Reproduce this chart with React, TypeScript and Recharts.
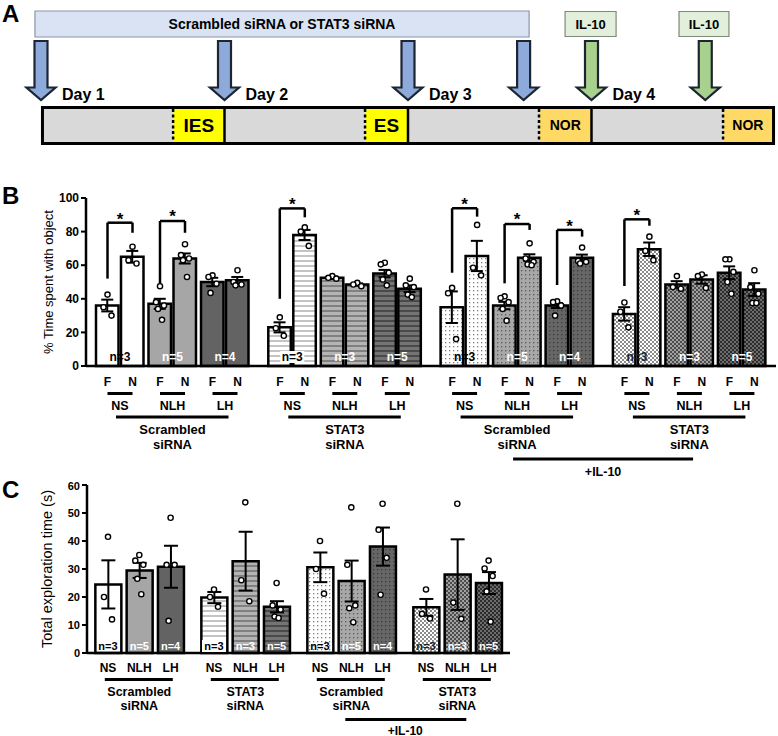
import React from 'react';
import {
  ComposedChart, Bar, Cell, ErrorBar, Scatter, XAxis, YAxis,
  ReferenceLine, ReferenceDot, ReferenceArea,
} from 'recharts';

const FONT = "'Liberation Sans', Arial, Helvetica, sans-serif";

// ---------------- Panel A (timeline) ----------------
const dayLabels = ['Day 1', 'Day 2', 'Day 3', 'Day 4'];
const sirnaInjectionDays = [0, 1, 2, 2.63];
const il10InjectionDays = [3, 3.62];
const treatmentText = 'Scrambled siRNA or STAT3 siRNA';
const treatmentSpanDays = [-0.033, 2.66];
const il10Text = 'IL-10';
const il10BoxDays = [[2.856, 3.134], [3.477, 3.749]];
const sessionLabels = ['IES', 'ES', 'NOR', 'NOR'];
const sessionStartDays = [0.72, 1.766, 2.714, 3.717];
const sessionEndDays = [1, 2, 3, 4];
const dayBoundaries = [1, 2, 3];

// ---------------- Panel B ----------------
const groupLabels = [['Scrambled', 'siRNA'], ['STAT3', 'siRNA'], ['Scrambled', 'siRNA'], ['STAT3', 'siRNA']];
const conditions = ['NS', 'NLH', 'LH'];
const objects = ['F', 'N'];
const il10Label = '+IL-10';
const bTicks = [0, 20, 40, 60, 80, 100];
const bTitle = '% Time spent with object';
// order: group -> condition -> object (F, N)
const bMean = [
  36, 65, 37, 64, 50, 51,
  23, 78, 52.5, 48.5, 55, 46,
  35, 65.5, 36, 64.5, 36, 64.5,
  31, 69.5, 48.5, 51.5, 55.5, 45.5,
];
const bSem = [
  3.5, 3.5, 3, 3, 2.5, 2,
  3, 3, 0.7, 0.7, 2.2, 2,
  9.4, 9, 2.2, 2, 1.5, 1.8,
  4, 4, 2, 2.5, 3.8, 3.8,
];
const bPoints = [
  [42.5, 35, 30], [71, 63, 61], [47.5, 38, 36, 34, 27.5], [72.5, 66, 64, 63, 53], [54, 53, 49, 43.5], [57, 50, 48.5, 48],
  [29, 22.5, 18], [82.5, 80, 71.5], [53.5, 52.5, 52], [49.5, 48.5, 47.5], [61.5, 60.5, 55.5, 51.5, 48], [52, 48, 47, 42.5, 41],
  [46.5, 43.3, 16], [84, 58.5, 54], [41.5, 40.5, 38, 34, 27], [73, 64, 62, 60.5, 60], [38.5, 38, 36, 30], [70.5, 62.5, 62, 61],
  [37.8, 32.3, 23], [77, 68.5, 63], [53.5, 47, 46], [54.5, 53.5, 46.5], [63.5, 63.5, 56, 50, 43], [57, 47, 43, 37.5, 37.5],
];
const nPerCondition = [3, 5, 4, 3, 3, 5, 3, 5, 4, 3, 3, 5];
// significance brackets: F bar index, leg/top heights (in % units)
const bSignificance = [
  { bar: 0, fLeg: 52, top: 85.3, nLeg: 79.3, star: 89.5 },
  { bar: 2, fLeg: 47.4, top: 86.3, nLeg: 79.3, star: 90.8 },
  { bar: 6, fLeg: 40, top: 93.8, nLeg: 88.5, star: 98 },
  { bar: 12, fLeg: 55.5, top: 93.9, nLeg: 88.9, star: 98.5 },
  { bar: 14, fLeg: 49.2, top: 84.5, nLeg: 81, star: 89 },
  { bar: 16, fLeg: 48.2, top: 81, nLeg: 77, star: 85 },
  { bar: 18, fLeg: 47.6, top: 87.3, nLeg: 83.5, star: 91.5 },
];

// ---------------- Panel C ----------------
const cTicks = [0, 10, 20, 30, 40, 50, 60];
const cTitle = 'Total exploration time (s)';
const cMean = [24.5, 29.5, 30.8, 19.8, 32.8, 16.5, 30.6, 25.7, 38, 16.3, 28, 25];
const cSem = [8.6, 2.7, 7.5, 2, 10.5, 2, 5.3, 7.3, 6.8, 3, 12.6, 3.9];
const cPoints = [
  [41.5, 20, 12], [35, 33, 31.5, 26.5, 21], [48.3, 31.5, 31.5, 11.5],
  [22.7, 20, 16.5], [53.8, 26, 18.5], [25, 17, 15.5, 13, 12.5],
  [40, 30, 21.2], [52, 31.5, 17, 16, 11], [53.3, 44, 34, 20.8],
  [22.7, 14, 12.3], [53.3, 18, 12.2], [33, 30.2, 27.5, 22, 11.2],
];

// ---------------- layout helpers ----------------
const JIT = [0, -4, 4, -2, 2];
const B_BAR = 25;
const C_BAR = 26;
const bX = (i: number) => {
  const g = Math.floor(i / 6), p = Math.floor((i % 6) / 2), s = i % 2;
  return 21.5 + g * 172.3 + p * 52.5 + s * B_BAR;
};
const cX = (i: number) => {
  const g = Math.floor(i / 3), b = i % 3;
  return 21 + g * 106 + b * 31.3;
};

const tones = [
  { solid: '#ffffff', sBg: '#ffffff', sLn: '#c4c4c4', dBg: '#ffffff', dDot: '#7c7c7c', cA: '#ffffff', cB: '#8c8c8c' },
  { solid: '#a6a6a6', sBg: '#b4b4b4', sLn: '#808080', dBg: '#a8a8a8', dDot: '#5a5a5a', cA: '#a0a0a0', cB: '#4c4c4c' },
  { solid: '#636363', sBg: '#747474', sLn: '#4a4a4a', dBg: '#666666', dDot: '#3a3a3a', cA: '#6c6c6c', cB: '#2c2c2c' },
];
const fillFor = (g: number, p: number) => {
  if (g === 0) return tones[p].solid;
  if (g === 1) return `url(#stripe${p})`;
  if (g === 2) return `url(#dots${p})`;
  return `url(#check${p})`;
};

const Patterns = () => (
  <svg width={0} height={0} style={{ position: 'absolute' }}>
    <defs>
      {tones.map((t, p) => (
        <React.Fragment key={p}>
          <pattern id={`stripe${p}`} patternUnits="userSpaceOnUse" width={8} height={5}>
            <rect width={8} height={5} fill={t.sBg} />
            <rect width={8} height={2} fill={t.sLn} />
          </pattern>
          <pattern id={`dots${p}`} patternUnits="userSpaceOnUse" width={4} height={4}>
            <rect width={4} height={4} fill={t.dBg} />
            <rect x={1} y={1} width={1.3} height={1.3} fill={t.dDot} />
          </pattern>
          <pattern id={`check${p}`} patternUnits="userSpaceOnUse" width={4} height={4}>
            <rect width={4} height={4} fill={t.cA} />
            <rect x={0} y={0} width={2} height={2} fill={t.cB} />
            <rect x={2} y={2} width={2} height={2} fill={t.cB} />
          </pattern>
        </React.Fragment>
      ))}
    </defs>
  </svg>
);

const txt = (size: number, weight: string = 'bold') => ({ fontSize: size, fontWeight: weight as any, fontFamily: FONT, fill: '#000' });

const AxisTitle = ({ viewBox, text, dx, size }: any) => {
  const vb = viewBox || { x: 0, y: 0, width: 60, height: 168 };
  const cx = vb.x + dx;
  const cy = vb.y + vb.height / 2;
  return (
    <text x={cx} y={cy} transform={`rotate(-90 ${cx} ${cy})`} textAnchor="middle" dominantBaseline="central" {...txt(size, 'normal')}>
      {text}
    </text>
  );
};

const Dot = (p: any) => (
  <circle cx={p.cx} cy={p.cy} r={2.6} fill="#fff" stroke="#000" strokeWidth={1.4} />
);

const NLabel = (size: number, lift: number) => (p: any) => {
  const k = p.payload.k as number;
  const g = Math.floor(k / 3), c = k % 3;
  const color = c === 0 ? (g === 3 ? '#222' : '#000') : '#fff';
  const y = p.cy - lift;
  return (
    <g>
      {g === 1 && c === 0 ? <rect x={p.cx - 12} y={y - 10} width={24} height={12} fill="#fff" /> : null}
      <text x={p.cx} y={y} textAnchor="middle" {...txt(size)} fill={color}>{`n=${nPerCondition[k]}`}</text>
    </g>
  );
};

// ---------------- Panel A ----------------
const A_PX_PER_DAY = 183.5;
const A_DOMAIN: [number, number] = [-41 / A_PX_PER_DAY, 737 / A_PX_PER_DAY];
const arrowShape = (fill: string) => (p: any) => {
  const { cx, cy } = p;
  const sh = 6.5, hh = 14.5, se = cy + 46.5, tip = cy + 59;
  const pts = `${cx - sh},${cy} ${cx + sh},${cy} ${cx + sh},${se} ${cx + hh},${se} ${cx},${tip} ${cx - hh},${se} ${cx - sh},${se}`;
  return <polygon points={pts} fill={fill} stroke="#1d2533" strokeWidth={2.2} />;
};

const PanelA = () => {
  const sirna = sirnaInjectionDays.map((d) => ({ day: d, y: 41 }));
  const il10 = il10InjectionDays.map((d) => ({ day: d, y: 41 }));
  return (
    <ComposedChart width={778} height={150} margin={{ top: 0, right: 0, bottom: 0, left: 0 }}>
      <XAxis type="number" dataKey="day" domain={A_DOMAIN} hide />
      <YAxis type="number" domain={[0, 150]} reversed hide />
      <ReferenceArea x1={treatmentSpanDays[0]} x2={treatmentSpanDays[1]} y1={11} y2={37} fill="#dae3f3" fillOpacity={1} stroke="#8a96a8" strokeWidth={1.2}
        label={{ value: treatmentText, position: 'center', ...txt(14) }} />
      {il10BoxDays.map((b, i) => (
        <ReferenceArea key={`il${i}`} x1={b[0]} x2={b[1]} y1={11.5} y2={36.5} fill="#e2efda" fillOpacity={1} stroke="#7f8a78" strokeWidth={1.2}
          label={{ value: il10Text, position: 'center', ...txt(13) }} />
      ))}
      <ReferenceArea x1={0.008} x2={3.992} y1={107.5} y2={143.5} fill="#d9d9d9" fillOpacity={1} stroke="none" />
      {sessionLabels.map((s, i) => (
        <ReferenceArea key={`s${i}`} x1={sessionStartDays[i]} x2={sessionEndDays[i] - (i === 3 ? 0.012 : 0)} y1={109} y2={142}
          fill={s === 'NOR' ? '#ffd966' : '#ffff00'} fillOpacity={1} stroke="none"
          label={{ value: s, position: 'center', ...txt(s === 'NOR' ? 14 : 19) }} />
      ))}
      <ReferenceArea x1={0.008} x2={3.992} y1={107.5} y2={143.5} fill="none" fillOpacity={0} stroke="#000" strokeWidth={3} />
      {dayBoundaries.map((d) => (
        <ReferenceLine key={`b${d}`} segment={[{ x: d, y: 107.5 }, { x: d, y: 143.5 }]} stroke="#000" strokeWidth={2.5} />
      ))}
      {sessionStartDays.map((d, i) => (
        <ReferenceLine key={`d${i}`} segment={[{ x: d, y: 109 }, { x: d, y: 142 }]} stroke="#000" strokeWidth={2.5} strokeDasharray="3 2.5" />
      ))}
      {dayLabels.map((l, i) => (
        <ReferenceDot key={l} x={i} y={100} r={0}
          shape={(p: any) => <text x={p.cx + 21} y={p.cy} {...txt(16)}>{l}</text>} />
      ))}
      <Scatter data={sirna} dataKey="y" isAnimationActive={false} shape={arrowShape('#8eaadb')} />
      <Scatter data={il10} dataKey="y" isAnimationActive={false} shape={arrowShape('#a9d18e')} />
    </ComposedChart>
  );
};

// ---------------- Panel B ----------------
const bBarX = bMean.map((_, i) => bX(i));
const BTick = (props: any) => {
  const { x, y, payload } = props;
  const i = bBarX.findIndex((v) => Math.abs(v - payload.value) < 1e-6);
  if (i < 0) return null;
  const g = Math.floor(i / 6), p = Math.floor((i % 6) / 2), s = i % 2;
  const pc = x + B_BAR / 2;
  return (
    <g>
      <text x={x} y={y + 20} textAnchor="middle" {...txt(12)}>{objects[s]}</text>
      {s === 0 ? (
        <>
          <line x1={x} x2={x + B_BAR} y1={y + 27.5} y2={y + 27.5} stroke="#000" strokeWidth={3} />
          <text x={pc} y={y + 44} textAnchor="middle" {...txt(12.5)}>{conditions[p]}</text>
          {p === 1 ? (
            <>
              <line x1={pc - 56.5} x2={pc + 56} y1={y + 51} y2={y + 51} stroke="#000" strokeWidth={3} />
              <text x={pc} y={y + 68} textAnchor="middle" {...txt(13)}>{groupLabels[g][0]}</text>
              <text x={pc} y={y + 83} textAnchor="middle" {...txt(13)}>{groupLabels[g][1]}</text>
            </>
          ) : null}
          {p === 1 && g === 2 ? (
            <>
              <line x1={pc - 4} x2={pc + 176} y1={y + 93} y2={y + 93} stroke="#000" strokeWidth={3} />
              <text x={pc + 86} y={y + 110} textAnchor="middle" {...txt(12.5)}>{il10Label}</text>
            </>
          ) : null}
        </>
      ) : null}
    </g>
  );
};

const PanelB = () => {
  const data = bMean.map((m, i) => ({ x: bX(i), mean: m, sem: bSem[i] }));
  const dots = bPoints.flatMap((vals, i) => vals.map((v, k) => ({ x: bX(i) + JIT[k], v })));
  const nl = nPerCondition.map((_, k) => ({ x: bX(2 * k) + B_BAR / 2, v: 0, k }));
  return (
    <ComposedChart width={778} height={300} data={data} margin={{ top: 13, right: 2, bottom: 4, left: 26 }}>
      <XAxis type="number" dataKey="x" domain={[0, 690]} ticks={bBarX} interval={0} tickSize={0} tickMargin={0}
        tickLine={false} axisLine={{ stroke: '#000', strokeWidth: 2.5 }} height={115} tick={(p: any) => <BTick {...p} />} />
      <XAxis xAxisId="pts" type="number" dataKey="x" domain={[0, 690]} hide />
      <YAxis type="number" domain={[0, 100]} ticks={bTicks} width={60} tickSize={5} tickMargin={2}
        axisLine={{ stroke: '#000', strokeWidth: 2.5 }} tickLine={{ stroke: '#000', strokeWidth: 2 }}
        tick={txt(12)} label={(lp: any) => <AxisTitle viewBox={lp.viewBox} text={bTitle} dx={22} size={13} />} />
      <Bar dataKey="mean" barSize={B_BAR} stroke="#000" strokeWidth={2.5} isAnimationActive={false}>
        {data.map((_, i) => (
          <Cell key={i} fill={fillFor(Math.floor(i / 6), Math.floor((i % 6) / 2))} />
        ))}
        <ErrorBar dataKey="sem" width={6} stroke="#000" strokeWidth={2} />
      </Bar>
      <Scatter xAxisId="pts" data={dots} dataKey="v" isAnimationActive={false} shape={Dot} />
      <Scatter xAxisId="pts" data={nl} dataKey="v" isAnimationActive={false} shape={NLabel(12, 5)} />
      {bSignificance.map((s, j) => {
        const xf = bX(s.bar), xn = bX(s.bar + 1);
        return (
          <React.Fragment key={`sig${j}`}>
            <ReferenceLine segment={[{ x: xf, y: s.fLeg }, { x: xf, y: s.top }]} stroke="#000" strokeWidth={2.5} />
            <ReferenceLine segment={[{ x: xf, y: s.top }, { x: xn, y: s.top }]} stroke="#000" strokeWidth={2.5} />
            <ReferenceLine segment={[{ x: xn, y: s.top }, { x: xn, y: s.nLeg }]} stroke="#000" strokeWidth={2.5} />
            <ReferenceDot x={(xf + xn) / 2} y={s.star} r={0}
              shape={(p: any) => <text x={p.cx} y={p.cy + 9} textAnchor="middle" {...txt(17)}>*</text>} />
          </React.Fragment>
        );
      })}
    </ComposedChart>
  );
};

// ---------------- Panel C ----------------
const cBarX = cMean.map((_, i) => cX(i));
const CTick = (props: any) => {
  const { x, y, payload } = props;
  const i = cBarX.findIndex((v) => Math.abs(v - payload.value) < 1e-6);
  if (i < 0) return null;
  const g = Math.floor(i / 3), b = i % 3;
  return (
    <g>
      <text x={x} y={y + 18.5} textAnchor="middle" {...txt(12)}>{conditions[b]}</text>
      {b === 1 ? (
        <>
          <line x1={x - 34.5} x2={x + 33.5} y1={y + 26.6} y2={y + 26.6} stroke="#000" strokeWidth={3} />
          <text x={x} y={y + 42.5} textAnchor="middle" {...txt(12.5)}>{groupLabels[g][0]}</text>
          <text x={x} y={y + 57} textAnchor="middle" {...txt(12.5)}>{groupLabels[g][1]}</text>
        </>
      ) : null}
      {b === 1 && g === 2 ? (
        <>
          <line x1={x - 6} x2={x + 115} y1={y + 66.6} y2={y + 66.6} stroke="#000" strokeWidth={3} />
          <text x={x + 54} y={y + 81.5} textAnchor="middle" {...txt(12)}>{il10Label}</text>
        </>
      ) : null}
    </g>
  );
};

const PanelC = () => {
  const data = cMean.map((m, i) => ({ x: cX(i), mean: m, sem: cSem[i] }));
  const dots = cPoints.flatMap((vals, i) => vals.map((v, k) => ({ x: cX(i) + JIT[k], v })));
  const nl = nPerCondition.map((_, k) => ({ x: cX(k), v: 0, k }));
  return (
    <ComposedChart width={778} height={256} data={data} margin={{ top: 5, right: 268, bottom: 0, left: 27 }}>
      <XAxis type="number" dataKey="x" domain={[0, 423]} ticks={cBarX} interval={0} tickSize={0} tickMargin={0}
        tickLine={false} axisLine={{ stroke: '#000', strokeWidth: 2.5 }} height={83} tick={(p: any) => <CTick {...p} />} />
      <XAxis xAxisId="pts" type="number" dataKey="x" domain={[0, 423]} hide />
      <YAxis type="number" domain={[0, 60]} ticks={cTicks} width={60} tickSize={5} tickMargin={2}
        axisLine={{ stroke: '#000', strokeWidth: 2.5 }} tickLine={{ stroke: '#000', strokeWidth: 2 }}
        tick={txt(11)} label={(lp: any) => <AxisTitle viewBox={lp.viewBox} text={cTitle} dx={20} size={14.5} />} />
      <Bar dataKey="mean" barSize={C_BAR} stroke="#000" strokeWidth={2.5} isAnimationActive={false}>
        {data.map((_, i) => (
          <Cell key={i} fill={fillFor(Math.floor(i / 3), i % 3)} />
        ))}
        <ErrorBar dataKey="sem" width={7} stroke="#000" strokeWidth={2} />
      </Bar>
      <Scatter xAxisId="pts" data={dots} dataKey="v" isAnimationActive={false} shape={Dot} />
      <Scatter xAxisId="pts" data={nl} dataKey="v" isAnimationActive={false} shape={NLabel(11, 3)} />
    </ComposedChart>
  );
};

export default function App() {
  return (
    <div style={{ position: 'absolute', left: 0, top: 0, width: 778, height: 736, background: '#fff', overflow: 'hidden' }}>
      <Patterns />
      <div style={{ position: 'absolute', left: 0, top: 0 }}><PanelA /></div>
      <div style={{ position: 'absolute', left: 0, top: 185 }}><PanelB /></div>
      <div style={{ position: 'absolute', left: 0, top: 480 }}><PanelC /></div>
      <svg width={778} height={736} style={{ position: 'absolute', left: 0, top: 0, pointerEvents: 'none' }}>
        <text x={2} y={22} {...txt(24)}>A</text>
        <text x={2} y={204} {...txt(24)}>B</text>
        <text x={2} y={498} {...txt(24)}>C</text>
      </svg>
    </div>
  );
}
